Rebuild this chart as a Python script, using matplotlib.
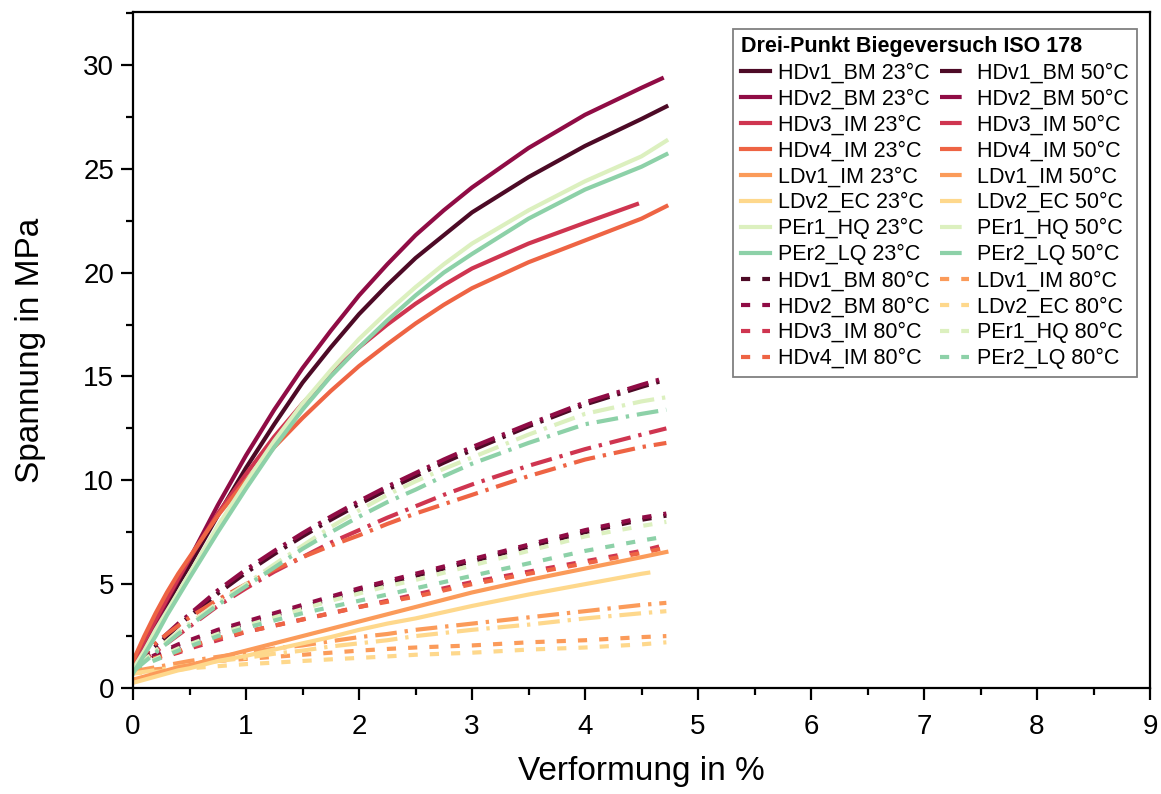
import matplotlib
matplotlib.use('Agg')
import matplotlib.pyplot as plt
from matplotlib.ticker import MultipleLocator

plt.rcParams['font.family'] = ['Liberation Sans', 'DejaVu Sans']

strain = [0, 0.1, 0.2, 0.3, 0.4, 0.5, 0.75, 1, 1.25, 1.5, 1.75, 2, 2.25, 2.5, 2.75, 3, 3.5, 4, 4.5]

names = ['HDv1_BM', 'HDv2_BM', 'HDv3_IM', 'HDv4_IM', 'LDv1_IM', 'LDv2_EC', 'PEr1_HQ', 'PEr2_LQ']
colors = ['#4d0a26', '#900c45', '#cf3550', '#ee6444', '#fb9b5a', '#fed88c', '#dcf0bf', '#8dd1a8']

# letzter Messpunkt jeder Kurve
end_23 = [4.72, 4.68, 4.46, 4.72, 4.72, 4.56, 4.72, 4.72]
end_50 = [4.72, 4.72, 4.72, 4.72, 4.72, 4.72, 4.72, 4.72]
end_80 = [4.72, 4.72, 4.72, 4.72, 4.72, 4.72, 4.72, 4.72]

# Spannung in MPa, 23 C
hdv1_23 = [1.0, 2.0, 3.0, 4.0, 5.0, 5.9, 8.3, 10.6, 12.7, 14.7, 16.4, 18.0, 19.4, 20.7, 21.8, 22.9, 24.6, 26.1, 27.4, 28.0]
hdv2_23 = [1.0, 2.1, 3.1, 4.2, 5.2, 6.2, 8.8, 11.2, 13.4, 15.4, 17.2, 18.9, 20.4, 21.8, 23.0, 24.1, 26.0, 27.6, 28.9, 29.35]
hdv3_23 = [1.2, 2.25, 3.28, 4.29, 5.27, 6.22, 8.4, 10.3, 12.1, 13.7, 15.1, 16.4, 17.5, 18.5, 19.4, 20.2, 21.4, 22.4, 23.3]
hdv4_23 = [1.3, 2.5, 3.6, 4.6, 5.5, 6.3, 8.3, 10.0, 11.6, 13.0, 14.3, 15.5, 16.55, 17.55, 18.45, 19.25, 20.5, 21.55, 22.6, 23.2]
ldv1_23 = [0.4, 0.55, 0.7, 0.85, 1.0, 1.1, 1.45, 1.8, 2.15, 2.5, 2.85, 3.2, 3.55, 3.9, 4.25, 4.6, 5.2, 5.75, 6.3, 6.55]
ldv2_23 = [0.25, 0.4, 0.55, 0.7, 0.85, 0.95, 1.3, 1.55, 1.85, 2.15, 2.45, 2.8, 3.1, 3.35, 3.65, 3.95, 4.5, 5.0, 5.5, 5.55]
per1_23 = [0.9, 1.8, 2.8, 3.7, 4.6, 5.5, 7.8, 9.9, 11.9, 13.7, 15.3, 16.8, 18.1, 19.3, 20.4, 21.4, 23.0, 24.4, 25.6, 26.35]
per2_23 = [0.7, 1.6, 2.5, 3.5, 4.4, 5.3, 7.5, 9.6, 11.6, 13.4, 15.0, 16.4, 17.7, 18.9, 20.0, 20.9, 22.6, 24.0, 25.1, 25.7]

# 50 C
hdv1_50 = [1.0, 1.5, 2.0, 2.5, 3.0, 3.45, 4.55, 5.55, 6.45, 7.3, 8.1, 8.85, 9.55, 10.2, 10.85, 11.45, 12.6, 13.65, 14.5, 14.85]
hdv2_50 = [1.1, 1.6, 2.1, 2.6, 3.1, 3.55, 4.7, 5.7, 6.6, 7.45, 8.25, 9.0, 9.7, 10.35, 11.0, 11.6, 12.7, 13.75, 14.6, 14.95]
hdv3_50 = [1.0, 1.35, 1.75, 2.15, 2.55, 2.95, 3.95, 4.8, 5.6, 6.3, 7.0, 7.6, 8.2, 8.75, 9.3, 9.8, 10.7, 11.5, 12.2, 12.5]
hdv4_50 = [1.1, 1.65, 2.15, 2.6, 3.0, 3.4, 4.25, 5.0, 5.7, 6.3, 6.85, 7.35, 7.9, 8.4, 8.85, 9.3, 10.2, 11.0, 11.6, 11.8]
ldv1_50 = [0.8, 0.9, 1.0, 1.1, 1.2, 1.3, 1.5, 1.7, 1.9, 2.05, 2.25, 2.45, 2.6, 2.8, 2.95, 3.1, 3.4, 3.7, 4.0, 4.1]
ldv2_50 = [0.7, 0.78, 0.86, 0.94, 1.02, 1.1, 1.3, 1.45, 1.65, 1.8, 2.0, 2.15, 2.3, 2.5, 2.65, 2.8, 3.05, 3.35, 3.6, 3.7]
per1_50 = [0.9, 1.35, 1.8, 2.25, 2.7, 3.1, 4.1, 5.0, 5.95, 6.85, 7.75, 8.55, 9.3, 9.95, 10.55, 11.1, 12.2, 13.2, 13.8, 14.0]
per2_50 = [0.8, 1.25, 1.7, 2.15, 2.6, 3.0, 4.0, 4.9, 5.8, 6.7, 7.5, 8.25, 8.95, 9.55, 10.2, 10.8, 11.8, 12.7, 13.2, 13.4]

# 80 C
hdv1_80 = [1.0, 1.25, 1.5, 1.75, 2.0, 2.2, 2.7, 3.1, 3.5, 3.9, 4.3, 4.7, 5.05, 5.4, 5.75, 6.1, 6.8, 7.5, 8.1, 8.3]
hdv2_80 = [1.1, 1.35, 1.6, 1.85, 2.1, 2.3, 2.8, 3.2, 3.6, 4.0, 4.4, 4.8, 5.15, 5.5, 5.85, 6.2, 6.9, 7.6, 8.2, 8.4]
hdv3_80 = [1.0, 1.2, 1.4, 1.55, 1.7, 1.9, 2.3, 2.7, 3.0, 3.3, 3.6, 3.9, 4.2, 4.5, 4.8, 5.1, 5.6, 6.1, 6.6, 6.9]
hdv4_80 = [1.1, 1.3, 1.45, 1.6, 1.75, 2.0, 2.4, 2.7, 3.0, 3.3, 3.6, 3.9, 4.15, 4.4, 4.7, 5.0, 5.5, 6.0, 6.5, 6.75]
ldv1_80 = [0.8, 0.85, 0.9, 0.95, 1.05, 1.15, 1.3, 1.4, 1.5, 1.6, 1.7, 1.8, 1.88, 1.95, 2.0, 2.05, 2.2, 2.3, 2.45, 2.5]
ldv2_80 = [0.7, 0.74, 0.78, 0.82, 0.88, 0.95, 1.05, 1.15, 1.22, 1.3, 1.38, 1.45, 1.52, 1.6, 1.65, 1.7, 1.85, 1.95, 2.1, 2.2]
per1_80 = [0.9, 1.15, 1.4, 1.65, 1.9, 2.1, 2.6, 3.0, 3.4, 3.8, 4.2, 4.55, 4.9, 5.2, 5.55, 5.9, 6.6, 7.3, 7.8, 8.0]
per2_80 = [0.9, 1.12, 1.35, 1.57, 1.8, 2.0, 2.5, 2.9, 3.25, 3.6, 3.9, 4.2, 4.5, 4.8, 5.1, 5.4, 6.0, 6.6, 7.1, 7.3]

vals_23 = [hdv1_23, hdv2_23, hdv3_23, hdv4_23, ldv1_23, ldv2_23, per1_23, per2_23]
vals_50 = [hdv1_50, hdv2_50, hdv3_50, hdv4_50, ldv1_50, ldv2_50, per1_50, per2_50]
vals_80 = [hdv1_80, hdv2_80, hdv3_80, hdv4_80, ldv1_80, ldv2_80, per1_80, per2_80]


def xs_for(end):
    return [s for s in strain if s < end] + [end]


fig = plt.figure(figsize=(11.61, 7.94), dpi=100)
ax = fig.add_axes([133/1161, 106/794, 1017/1161, 676/794])

lw = 3.0
h23, h50, h80 = [], [], []
for name, c, v, e in zip(names, colors, vals_80, end_80):
    l, = ax.plot(xs_for(e), v, color=c, lw=lw, ls=(0, (2.2, 2.9)),
                 dash_capstyle='butt', label=name + ' 80°C')
    h80.append(l)
for name, c, v, e in zip(names, colors, vals_50, end_50):
    l, = ax.plot(xs_for(e), v, color=c, lw=lw, ls=(0, (5.2, 1.9, 0.8, 1.9)),
                 dash_capstyle='butt', label=name + ' 50°C')
    h50.append(l)
for name, c, v, e in zip(names, colors, vals_23, end_23):
    l, = ax.plot(xs_for(e), v, color=c, lw=lw, label=name + ' 23°C')
    h23.append(l)

ax.set_xlim(0, 9)
ax.set_ylim(0, 32.55)
ax.xaxis.set_major_locator(MultipleLocator(1))
ax.xaxis.set_minor_locator(MultipleLocator(0.5))
ax.yaxis.set_major_locator(MultipleLocator(5))
ax.yaxis.set_minor_locator(MultipleLocator(2.5))
ax.tick_params(which='both', direction='out', width=1.6, labelsize=20, top=False, right=False)
ax.tick_params(which='major', length=8.5)
ax.tick_params(which='minor', length=5)
ax.tick_params(axis='x', pad=10)
ax.tick_params(axis='y', pad=5)
for sp in ax.spines.values():
    sp.set_linewidth(1.6)

ax.set_xlabel('Verformung in %', fontsize=24, labelpad=12)
ax.set_ylabel('Spannung in MPa', fontsize=24, labelpad=27)

handles = h23 + h80[:4] + h50 + h80[4:]
leg = ax.legend(handles=handles, ncol=2, loc='upper left', bbox_to_anchor=(0.59, 0.975),
                borderaxespad=0, fontsize=15.5, title='Drei-Punkt Biegeversuch ISO 178',
                title_fontproperties={'weight': 'bold', 'size': 15.5}, alignment='left',
                handlelength=1.35, handletextpad=0.37, columnspacing=0.5,
                labelspacing=0.23, borderpad=0.35, fancybox=False, framealpha=1)
leg.get_frame().set_edgecolor('#808080')
leg.get_frame().set_linewidth(1.3)

fig.savefig('out.png', dpi=100)
